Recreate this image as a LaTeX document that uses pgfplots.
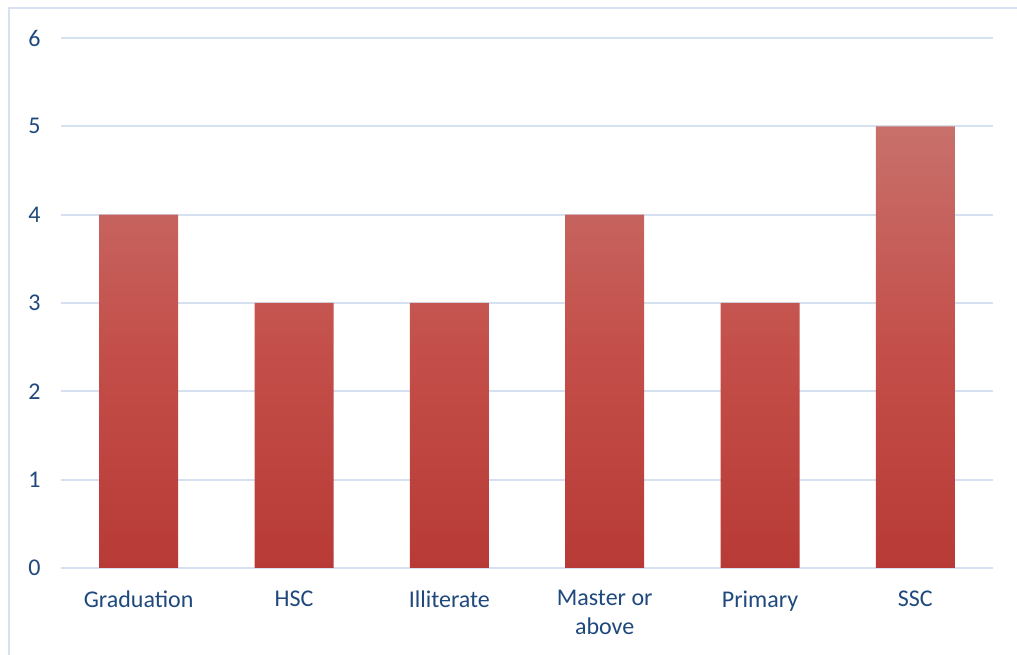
\documentclass[border=0pt]{standalone}
\usepackage{pgfplots}
\pgfplotsset{compat=1.18}
\usepackage{fontspec}
\setmainfont{Carlito}

\definecolor{labelblue}{HTML}{1F497D}
\definecolor{gridblue}{HTML}{D5E1F1}
\definecolor{framecol}{HTML}{D6E2F2}
\definecolor{barTop}{HTML}{C8706B}
\definecolor{barMid}{HTML}{C44F4A}
\definecolor{barBot}{HTML}{B83A36}

\pgfplotstableread{
x  count
0  4
1  3
2  3
3  4
4  3
5  5
}\education

\begin{document}
\begin{tikzpicture}[x=1bp,y=1bp]
  \useasboundingbox (0,0) rectangle (1017,655);
  % outer chart frame (open to the right and below)
  \draw[framecol, line width=2bp] (9,-5) -- (9,647) -- (1025,647);
  \begin{axis}[
    at={(61bp,87bp)}, anchor=south west,
    scale only axis,
    width=932bp, height=530bp,
    ymin=0, ymax=6,
    xmin=-0.5, xmax=5.5,
    ytick={0,1,...,6},
    xtick=data,
    xticklabels={Graduation,HSC,Illiterate,{Master or\\above},Primary,SSC},
    axis line style={draw=none},
    axis x line*=bottom,
    axis y line*=left,
    major tick length=0pt,
    ymajorgrids,
    grid style={gridblue, line width=2bp},
    ybar, bar width=79bp,
    /pgf/number format/assume math mode=true,
    tick label style={font=\fontsize{24bp}{29bp}\selectfont, text=labelblue},
    yticklabel style={xshift=-17bp},
    xticklabel style={align=center, anchor=north, yshift=-19bp},
  ]
    \addplot[draw=none, top color=barTop, bottom color=barBot, middle color=barMid]
      table[x=x, y=count] {\education};
  \end{axis}
\end{tikzpicture}
\end{document}
